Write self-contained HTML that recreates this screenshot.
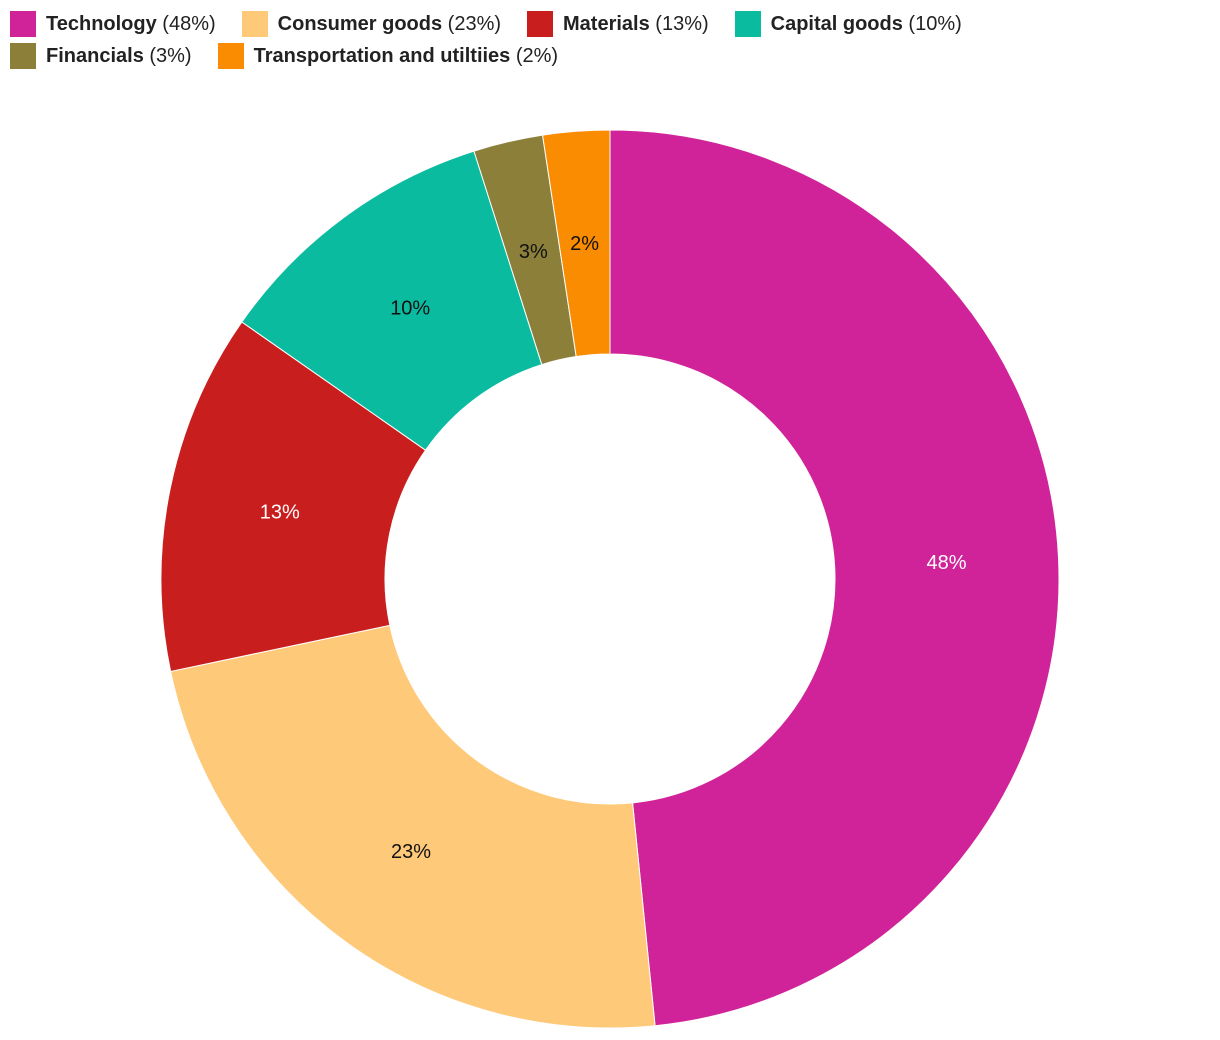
<!DOCTYPE html>
<html><head><meta charset="utf-8"><style>
body{margin:0;background:#fff;font-family:"Liberation Sans",sans-serif;width:1220px;height:1040px;overflow:hidden;position:relative}
#legend{position:absolute;left:10px;top:8px;width:1200px;font-size:20px;color:#222}
.row{display:flex;height:32px;align-items:center}
.item{display:flex;align-items:center;margin-right:26px}
.sw{width:26px;height:26px;margin-right:10px}
b{font-weight:bold}
</style></head><body>
<div id="legend"></div>
<svg id="chart" width="1220" height="1040" style="position:absolute;left:0;top:0"></svg>
<script>
const categories=["Technology","Consumer goods","Materials","Capital goods","Financials","Transportation and utiltiies"];
const values=[48.4,23.3,13.0,10.4,2.5,2.4];
const labels=["48%","23%","13%","10%","3%","2%"];
const colors=["#d12399","#fec979","#c81e1e","#0bbba0","#8b7f3a","#f98c00"];
const textColors=["#fff","#111","#fff","#111","#111","#111"];
const cx=610,cy=579,R=449,r=225;
const ns="http://www.w3.org/2000/svg";
const svg=document.getElementById("chart");
const total=values.reduce((a,b)=>a+b,0);
function pt(a,rad){return [cx+rad*Math.sin(a),cy-rad*Math.cos(a)];}
let a0=0;
values.forEach((v,i)=>{
  const a1=a0+v/total*2*Math.PI;
  const [x1,y1]=pt(a0,R),[x2,y2]=pt(a1,R),[x3,y3]=pt(a1,r),[x4,y4]=pt(a0,r);
  const lg=(a1-a0)>Math.PI?1:0;
  const p=document.createElementNS(ns,"path");
  p.setAttribute("d",`M${x1},${y1}A${R},${R} 0 ${lg} 1 ${x2},${y2}L${x3},${y3}A${r},${r} 0 ${lg} 0 ${x4},${y4}Z`);
  p.setAttribute("fill",colors[i]);p.setAttribute("stroke","#fff");p.setAttribute("stroke-width","1");
  
  
  svg.appendChild(p);
  const [lx,ly]=pt((a0+a1)/2,(R+r)/2);
  const t=document.createElementNS(ns,"text");
  t.setAttribute("x",lx);t.setAttribute("y",ly+7);t.setAttribute("text-anchor","middle");
  t.setAttribute("font-size","20");t.setAttribute("fill",textColors[i]);
  t.setAttribute("font-family","Liberation Sans, sans-serif");
  t.textContent=labels[i];
  
  
  svg.appendChild(t);
  a0=a1;
});
const lg=document.getElementById("legend");
const rows=[[0,1,2,3],[4,5]];
rows.forEach(rw=>{
  const row=document.createElement("div");row.className="row";
  
  
  rw.forEach(i=>{
    const it=document.createElement("div");it.className="item";
    
    
    it.innerHTML=`<span class="sw" style="background:${colors[i]}"></span><span><b>${categories[i]}</b> (${labels[i]})</span>`;
    row.appendChild(it);
  });
  lg.appendChild(row);
});
</script>
</body></html>
